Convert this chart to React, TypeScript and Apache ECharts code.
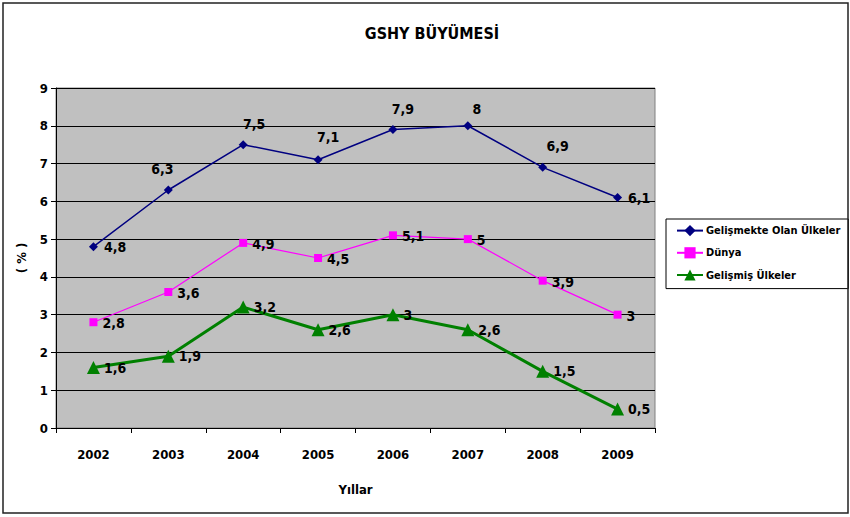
import React, { useEffect, useRef } from "react";
import * as echarts from "echarts";

const years = ["2002", "2003", "2004", "2005", "2006", "2007", "2008", "2009"];
const gelismekte = [4.8, 6.3, 7.5, 7.1, 7.9, 8, 6.9, 6.1];
const dunya = [2.8, 3.6, 4.9, 4.5, 5.1, 5, 3.9, 3];
const gelismis = [1.6, 1.9, 3.2, 2.6, 3, 2.6, 1.5, 0.5];
const yTicks = [0, 1, 2, 3, 4, 5, 6, 7, 8, 9];

// label placement for the first series (null = right of point)
const navyLabelOffsets: (number[] | null)[] = [
  null, [-6, -4.5], [11, -4], [10, -6.5], [10, -4.5], [9, -0.5], [15, -4.5], null,
];

const FONT = "'Liberation Sans Narrow', 'Arial Narrow', 'DejaVu Sans Condensed', 'Liberation Sans', sans-serif";
const fmt = (p: any) => String(p.value).replace(".", ",");

export default function App() {
  const ref = useRef<HTMLDivElement>(null);
  useEffect(() => {
    document.body.style.margin = "0";
    const chart = echarts.init(ref.current!, null, { renderer: "svg" });
    const labelBase = {
      show: true,
      formatter: fmt,
      fontFamily: FONT,
      fontWeight: "bold",
      fontSize: 14,
      color: "#000",
    };
    chart.setOption({
      animation: false,
      backgroundColor: "#fff",
      textStyle: { fontFamily: FONT },
      graphic: [
        {
          type: "rect",
          shape: { x: 3, y: 3, width: 845, height: 510 },
          style: { fill: "none", stroke: "#222", lineWidth: 1.5 },
          z: 100,
        },
        {
          type: "text",
          x: 432,
          y: 33,
          style: {
            text: "GSHY BÜYÜMESİ",
            fontFamily: FONT,
            fontWeight: "bold",
            fontSize: 16,
            fill: "#000",
            textAlign: "center",
            textVerticalAlign: "middle",
          },
        },
      ],
      grid: {
        left: 56,
        right: 195,
        top: 88,
        bottom: 89,
        show: true,
        backgroundColor: "#C0C0C0",
        borderColor: "#808080",
        borderWidth: 1,
      },
      legend: {
        orient: "vertical",
        left: 666,
        top: 219,
        padding: [6, 8, 8, 10],
        itemGap: 11,
        itemWidth: 26,
        itemHeight: 14,
        borderColor: "#000",
        borderWidth: 1,
        backgroundColor: "#fff",
        textStyle: { fontFamily: FONT, fontWeight: "bold", fontSize: 11, color: "#000", padding: [0, 0, 0, -2] },
        data: ["Gelişmekte Olan Ülkeler", "Dünya", "Gelişmiş Ülkeler"],
      },
      xAxis: {
        type: "category",
        data: years,
        boundaryGap: true,
        name: "Yıllar",
        nameLocation: "middle",
        nameGap: 55,
        nameTextStyle: { fontFamily: FONT, fontWeight: "bold", fontSize: 13, color: "#000" },
        axisLine: { lineStyle: { color: "#000", width: 1 } },
        axisTick: { show: true, length: 5, lineStyle: { color: "#000" } },
        axisLabel: { margin: 20, fontFamily: FONT, fontWeight: "bold", fontSize: 13, color: "#000" },
      },
      yAxis: {
        type: "value",
        min: yTicks[0],
        max: yTicks[yTicks.length - 1],
        interval: 1,
        name: "( % )",
        nameLocation: "middle",
        nameGap: 28,
        nameRotate: 90,
        nameTextStyle: { fontFamily: FONT, fontWeight: "bold", fontSize: 13, color: "#000" },
        axisLine: { show: true, lineStyle: { color: "#000", width: 1 } },
        axisTick: { show: true, length: 5, lineStyle: { color: "#000" } },
        axisLabel: { margin: 8, fontFamily: FONT, fontWeight: "bold", fontSize: 13, color: "#000" },
        splitLine: { show: true, lineStyle: { color: "#000", width: 1 } },
      },
      series: [
        {
          name: "Gelişmekte Olan Ülkeler",
          type: "line",
          data: gelismekte.map((v, i) => {
            const off = navyLabelOffsets[i];
            return off
              ? { value: v, label: { position: "top", distance: 5, offset: off } }
              : { value: v };
          }),
          symbol: "diamond",
          symbolSize: 9,
          itemStyle: { color: "#000080" },
          lineStyle: { color: "#000080", width: 1.5 },
          label: { ...labelBase, position: "right", distance: 6 },
          z: 3,
        },
        {
          name: "Dünya",
          type: "line",
          data: dunya,
          symbol: "rect",
          symbolSize: 8,
          itemStyle: { color: "#FF00FF" },
          lineStyle: { color: "#FF00FF", width: 1.2 },
          label: { ...labelBase, position: "right", distance: 5, offset: [0, 1] },
          z: 2,
        },
        {
          name: "Gelişmiş Ülkeler",
          type: "line",
          data: gelismis,
          symbol: "triangle",
          symbolSize: 13,
          itemStyle: { color: "#008000" },
          lineStyle: { color: "#008000", width: 3 },
          label: { ...labelBase, position: "right", distance: 4 },
          z: 4,
        },
      ],
    });
    return () => chart.dispose();
  }, []);
  return <div ref={ref} style={{ width: 850, height: 517 }} />;
}
